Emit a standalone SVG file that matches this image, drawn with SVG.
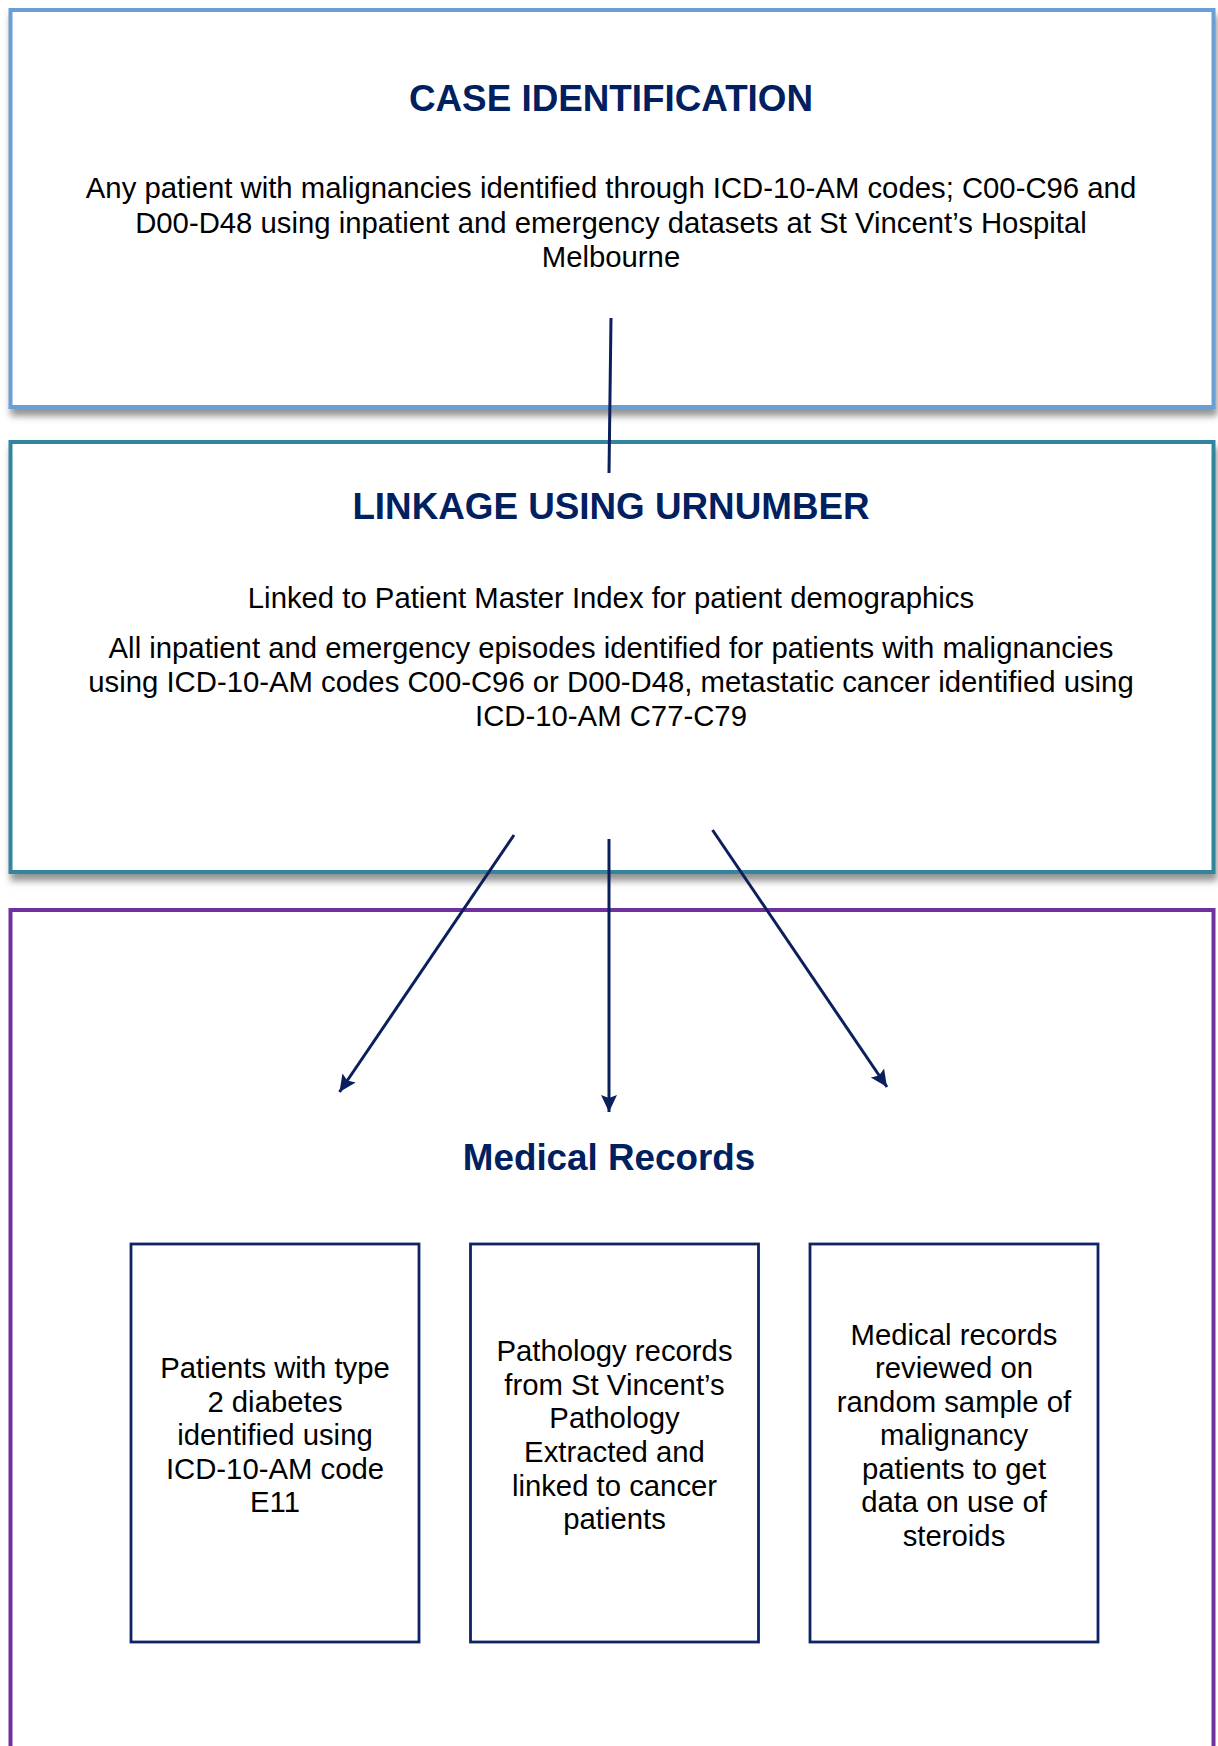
<svg xmlns="http://www.w3.org/2000/svg" width="1218" height="1746" viewBox="0 0 1218 1746">
  <style>
    .title { font-family: "Liberation Sans", Arial, sans-serif; font-weight: bold; font-size: 36.8px; fill: #002060; text-anchor: middle; }
    .body { font-family: "Liberation Sans", Arial, sans-serif; font-size: 29.3px; fill: #000000; text-anchor: middle; }
    .stage { fill: #ffffff; stroke-width: 4; }
    .sub { fill: #ffffff; stroke: #0d2566; stroke-width: 2.8; }
    .link { stroke: #0a1f5c; stroke-width: 3; fill: none; }
  </style>
  <defs>
    <filter id="shadow" x="-5%" y="-5%" width="110%" height="115%">
      <feDropShadow dx="2" dy="7" stdDeviation="3.5" flood-color="#777777" flood-opacity="0.8"/>
    </filter>
    <marker id="arrow" markerUnits="userSpaceOnUse" markerWidth="18" markerHeight="18" viewBox="0 0 18 18" refX="17" refY="9" orient="auto">
      <path d="M0,1 L17,9 L0,17 L3,9 Z" fill="#0a1f5c"/>
    </marker>
  </defs>

  <rect width="1218" height="1746" fill="#ffffff"/>

  <!-- Stage 1: case identification -->
  <g id="case-identification">
    <rect class="stage" x="10.5" y="10" width="1203" height="397" stroke="#6a9fd6" filter="url(#shadow)"/>
    <text class="title" x="611" y="111">CASE IDENTIFICATION</text>
    <text class="body" x="611" y="198">Any patient with malignancies identified through ICD-10-AM codes; C00-C96 and</text>
    <text class="body" x="611" y="232.5">D00-D48 using inpatient and emergency datasets at St Vincent’s Hospital</text>
    <text class="body" x="611" y="267">Melbourne</text>
  </g>

  <!-- Stage 2: linkage -->
  <g id="linkage">
    <rect class="stage" x="10.5" y="442" width="1203" height="430" stroke="#31859c" filter="url(#shadow)"/>
    <text class="title" x="611" y="519">LINKAGE USING URNUMBER</text>
    <text class="body" x="611" y="608">Linked to Patient Master Index for patient demographics</text>
    <text class="body" x="611" y="658">All inpatient and emergency episodes identified for patients with malignancies</text>
    <text class="body" x="611" y="692">using ICD-10-AM codes C00-C96 or D00-D48, metastatic cancer identified using</text>
    <text class="body" x="611" y="725.5">ICD-10-AM C77-C79</text>
  </g>

  <!-- Stage 3: medical records -->
  <g id="medical-records">
    <rect class="stage" x="10.5" y="910" width="1203" height="900" stroke="#7030a0"/>
    <text class="title" x="609" y="1170">Medical Records</text>
  </g>

  <g id="diabetes">
    <rect class="sub" x="131" y="1244" width="288" height="398"/>
    <text class="body" x="275" y="1378">Patients with type</text>
    <text class="body" x="275" y="1411.5">2 diabetes</text>
    <text class="body" x="275" y="1445">identified using</text>
    <text class="body" x="275" y="1478.5">ICD-10-AM code</text>
    <text class="body" x="275" y="1512">E11</text>
  </g>

  <g id="pathology">
    <rect class="sub" x="470.5" y="1244" width="288" height="398"/>
    <text class="body" x="614.5" y="1361">Pathology records</text>
    <text class="body" x="614.5" y="1394.5">from St Vincent’s</text>
    <text class="body" x="614.5" y="1428">Pathology</text>
    <text class="body" x="614.5" y="1461.5">Extracted and</text>
    <text class="body" x="614.5" y="1495.5">linked to cancer</text>
    <text class="body" x="614.5" y="1529">patients</text>
  </g>

  <g id="steroids">
    <rect class="sub" x="810" y="1244" width="288" height="398"/>
    <text class="body" x="954" y="1344.5">Medical records</text>
    <text class="body" x="954" y="1378">reviewed on</text>
    <text class="body" x="954" y="1411.5">random sample of</text>
    <text class="body" x="954" y="1445">malignancy</text>
    <text class="body" x="954" y="1478.5">patients to get</text>
    <text class="body" x="954" y="1512">data on use of</text>
    <text class="body" x="954" y="1545.5">steroids</text>
  </g>

  <!-- Connectors -->
  <g id="connectors">
    <line class="link" x1="611" y1="318" x2="609" y2="473"/>
    <line class="link" x1="514" y1="835" x2="339.5" y2="1092" marker-end="url(#arrow)"/>
    <line class="link" x1="609" y1="839" x2="609" y2="1112" marker-end="url(#arrow)"/>
    <line class="link" x1="712.5" y1="830" x2="887" y2="1087" marker-end="url(#arrow)"/>
  </g>
</svg>
